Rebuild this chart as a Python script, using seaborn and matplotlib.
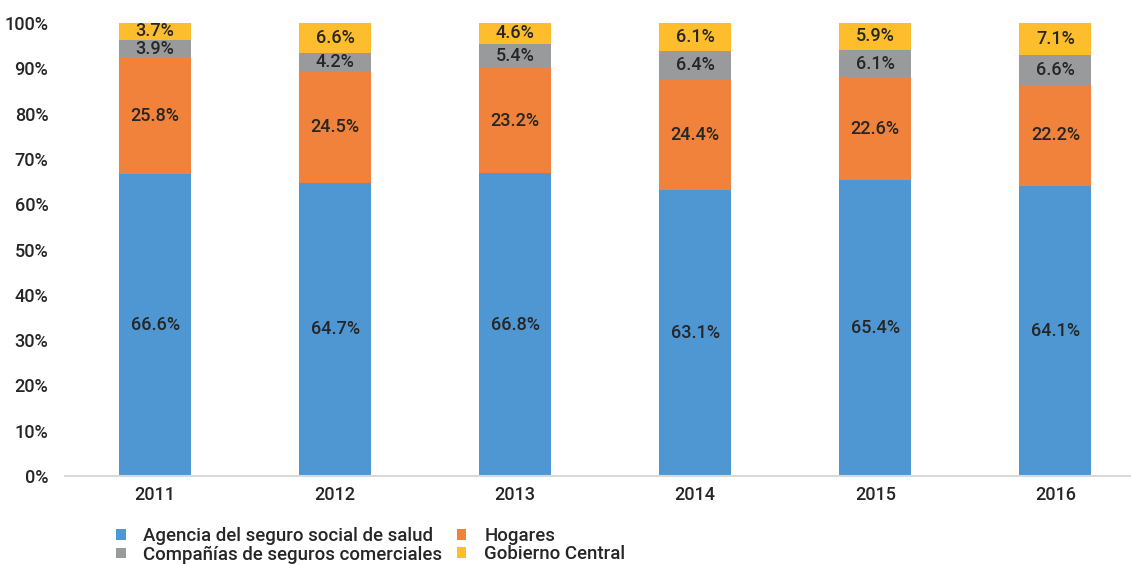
import matplotlib
matplotlib.use("Agg")
import matplotlib.pyplot as plt
import seaborn as sns
import numpy as np
import pandas as pd
from matplotlib.patches import Patch

years = ["2011", "2012", "2013", "2014", "2015", "2016"]
agencia = [66.6, 64.7, 66.8, 63.1, 65.4, 64.1]
hogares = [25.8, 24.5, 23.2, 24.4, 22.6, 22.2]
companias = [3.9, 4.2, 5.4, 6.4, 6.1, 6.6]
gobierno = [3.7, 6.6, 4.6, 6.1, 5.9, 7.1]

series_names = [
    "Agencia del seguro social de salud",
    "Hogares",
    "Compañías de seguros comerciales",
    "Gobierno Central",
]
series_values = [agencia, hogares, companias, gobierno]
colors = ["#4F97D3", "#F0823B", "#989A9B", "#FDBD2C"]

sns.set_theme(style="white")
plt.rcParams["font.family"] = ["Roboto", "DejaVu Sans"]
plt.rcParams["font.weight"] = "medium"

fig = plt.figure(figsize=(11.31, 5.65), dpi=100)
ax = fig.add_axes([0.0575, 0.1575, 0.9425, 0.8018])

bottom = np.zeros(len(years))
for name, vals, col in zip(series_names, series_values, colors):
    df = pd.DataFrame({"year": years, "value": vals})
    sns.barplot(data=df, x="year", y="value", color=col, width=0.4,
                bottom=bottom, ax=ax, saturation=1, edgecolor="none",
                linewidth=0)
    cont = ax.containers[-1]
    ax.bar_label(cont, labels=[f"{v:.1f}%" for v in vals], label_type="center",
                 fontsize=13, color="#262626", fontweight="medium")
    bottom = bottom + np.array(vals)

ax.set_ylim(0, 100)
ax.set_xlim(-0.5, 5.42)
ax.set_yticks(np.arange(0, 101, 10))
ax.set_yticklabels([f"{t}%" for t in range(0, 101, 10)])
ax.set_xlabel("")
ax.set_ylabel("")
ax.tick_params(axis="both", labelsize=13, colors="#262626", length=0)
ax.tick_params(axis="x", pad=7)
ax.tick_params(axis="y", pad=12)
for s in ["top", "right", "left"]:
    ax.spines[s].set_visible(False)
ax.spines["bottom"].set_color("#D9D9D9")
ax.spines["bottom"].set_linewidth(1.5)

# legend filled column-wise, so order entries to read row by row
order = [0, 2, 1, 3]
handles = [Patch(facecolor=colors[i], edgecolor="none") for i in order]
labels = [series_names[i] for i in order]
fig.legend(handles, labels, loc="lower left", bbox_to_anchor=(0.088, -0.027),
           ncol=2, frameon=False, fontsize=13.4, handlelength=0.5, handleheight=0.5,
           handletextpad=0.95, columnspacing=0.8, labelspacing=0.0)

fig.savefig("out.png", dpi=100)
